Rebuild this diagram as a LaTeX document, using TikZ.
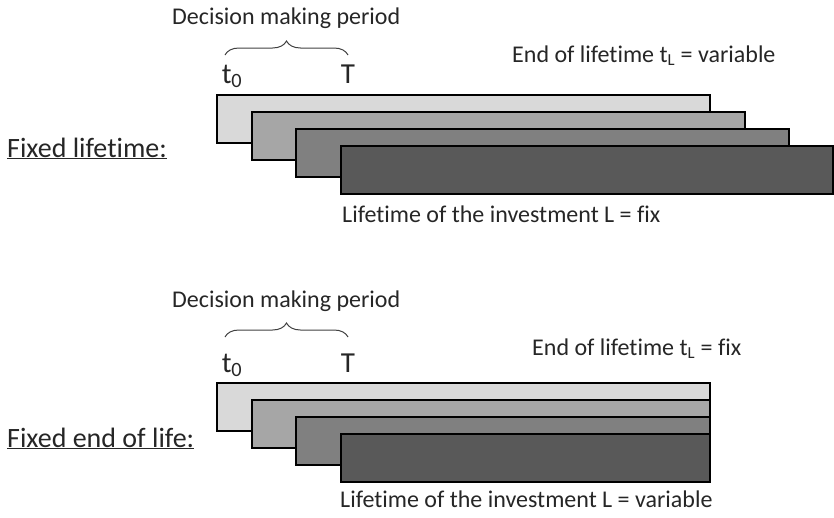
\documentclass[tikz,border=0pt]{standalone}
\usepackage{fontspec}
\setmainfont{Carlito}[Ligatures=CommonOff]
\usepackage{tikz}
\usetikzlibrary{positioning, decorations.pathreplacing}

\definecolor{barA}{HTML}{D9D9D9}
\definecolor{barB}{HTML}{A6A6A6}
\definecolor{barC}{HTML}{808080}
\definecolor{barD}{HTML}{595959}

\begin{document}
\begin{tikzpicture}[
    x=1pt, y=1pt,
    bar/.style={rectangle, draw=black, line width=2.2pt, anchor=north west,
                inner sep=0pt, minimum height=48pt},
    lbl/.style={font=\fontsize{24}{28}\selectfont, text=black!85, inner sep=0pt, anchor=base west},
    tlbl/.style={font=\fontsize{29}{33}\selectfont, text=black!85, inner sep=0pt, anchor=base},
    case/.style={font=\fontsize{28}{32}\selectfont, text=black!85, inner sep=0pt, anchor=base west},
    brace/.style={decorate, decoration={brace, amplitude=14pt, aspect=0.5}, line width=1pt, black!75}
]
    \useasboundingbox (0,0) rectangle (834,-517);

    % Fixed lifetime
    \node[bar, fill=barA, minimum width=493pt] (a1) at (216,-94) {};
    \node[bar, fill=barB, minimum width=493pt] (a2) at (251,-111) {};
    \node[bar, fill=barC, minimum width=493pt] (a3) at (295,-128) {};
    \node[bar, fill=barD, minimum width=492pt] (a4) at (340,-145) {};

    \node[case] (fix1) at (7,-157) {\underline{Fixed lifetime:}};
    \node[lbl] (dec1) at (172,-24) {Decision making period};
    \node[tlbl] (t01) at (232,-83) {t\textsubscript{0}};
    \node[tlbl] (T1) at (348,-83) {T};
    \node[lbl] (end1) at (512,-62) {End of lifetime t\textsubscript{L} = variable};
    \node[lbl] (life1) at (342,-222) {Lifetime of the investment L = fix};

    \coordinate (b1a) at (225,-55);
    \coordinate (b1b) at (348,-55);
    \draw[brace] (b1a) -- (b1b);

    % Fixed end of life
    \node[bar, fill=barA, minimum width=493pt] (c1) at (216,-382) {};
    \node[bar, fill=barB, minimum width=458pt] (c2) at (251,-399) {};
    \node[bar, fill=barC, minimum width=414pt] (c3) at (295,-416) {};
    \node[bar, fill=barD, minimum width=369pt] (c4) at (340,-433) {};

    \node[case] (fix2) at (7,-447) {\underline{Fixed end of life:}};
    \node[lbl] (dec2) at (172,-307) {Decision making period};
    \node[tlbl] (t02) at (232,-372) {t\textsubscript{0}};
    \node[tlbl] (T2) at (348,-372) {T};
    \node[lbl] (end2) at (532,-355) {End of lifetime t\textsubscript{L} = fix};
    \node[lbl] (life2) at (340,-507) {Lifetime of the investment L = variable};

    \coordinate (b2a) at (225,-337);
    \coordinate (b2b) at (348,-337);
    \draw[brace] (b2a) -- (b2b);

\end{tikzpicture}
\end{document}
